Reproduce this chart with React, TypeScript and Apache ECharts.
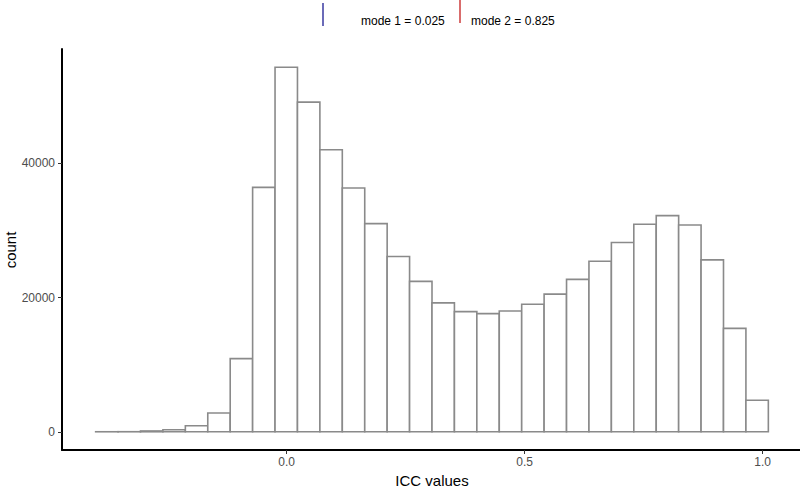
import React, { useEffect, useRef } from "react";
import * as echarts from "echarts";

// Histogram bins (30 bins, ggplot default)
const BIN_START = -0.401;
const BIN_WIDTH = 0.0471;
const COUNTS = [
  2, 10, 120, 300, 900, 2800, 10900, 36400, 54300, 49100,
  42000, 36300, 31000, 26100, 22400, 19200, 17900, 17600, 18000, 19000,
  20500, 22700, 25400, 28200, 30900, 32200, 30800, 25600, 15400, 4700,
];

const X_TICKS = [0, 0.5, 1.0];
const Y_TICKS = [0, 20000, 40000];
const X_RANGE = [-0.4717, 1.0827];
const Y_RANGE = [-2715, 57015];

const MODE_LABELS = ["mode 1 = 0.025", "mode 2 = 0.825"];
const MODE_COLORS = ["#3a3aa0", "#cc3b3b"];

const FONT = "'Liberation Sans', Arial, Helvetica, sans-serif";

export default function App() {
  const ref = useRef<HTMLDivElement>(null);

  useEffect(() => {
    if (!ref.current) return;
    const chart = echarts.init(ref.current, undefined, { renderer: "svg" });
    const data = COUNTS.map((c, i) => [
      BIN_START + i * BIN_WIDTH,
      BIN_START + (i + 1) * BIN_WIDTH,
      c,
    ]);

    const axisCommon = {
      type: "value" as const,
      splitLine: { show: false },
      axisLine: { show: true, onZero: false, lineStyle: { color: "#000", width: 2 } },
    };

    chart.setOption({
      animation: false,
      backgroundColor: "#fff",
      textStyle: { fontFamily: FONT },
      grid: {
        left: 62,
        top: 49,
        width: 740,
        height: 401,
        containLabel: false,
        outerBoundsMode: "none",
      },
      xAxis: {
        ...axisCommon,
        min: X_RANGE[0],
        max: X_RANGE[1],
        name: "ICC values",
        nameLocation: "middle",
        nameGap: 23,
        nameTextStyle: { color: "#000", fontSize: 15, fontFamily: FONT, verticalAlign: "top" },
        axisTick: { show: true, length: 4, customValues: X_TICKS, lineStyle: { color: "#333", width: 1 } },
        axisLabel: {
          customValues: X_TICKS,
          formatter: (v: number) => v.toFixed(1),
          color: "#4d4d4d",
          fontSize: 12,
          margin: 6,
          fontFamily: FONT,
        },
      },
      yAxis: {
        ...axisCommon,
        min: Y_RANGE[0],
        max: Y_RANGE[1],
        axisTick: { show: true, length: 4, customValues: Y_TICKS, lineStyle: { color: "#333", width: 1 } },
        axisLabel: {
          customValues: Y_TICKS,
          formatter: (v: number) => String(Math.round(v)),
          color: "#4d4d4d",
          fontSize: 12,
          margin: 7,
          fontFamily: FONT,
        },
      },
      series: [
        {
          type: "custom",
          data,
          encode: { x: [0, 1], y: 2 },
          renderItem: (params: any, api: any) => {
            const x0 = api.value(0);
            const x1 = api.value(1);
            const y = api.value(2);
            const p0 = api.coord([x0, 0]);
            const p1 = api.coord([x1, y]);
            return {
              type: "polygon",
              shape: {
                points: [
                  [p0[0], p0[1]],
                  [p0[0], p1[1]],
                  [p1[0], p1[1]],
                  [p1[0], p0[1]],
                ],
              },
              style: { fill: "#fff", stroke: "#8a8a8a", lineWidth: 1.6, lineJoin: "miter" },
            };
          },
        },
      ],
      graphic: [
        {
          type: "text",
          x: 10,
          y: 250,
          rotation: Math.PI / 2,
          style: {
            text: "count",
            fontSize: 15,
            fill: "#000",
            align: "center",
            verticalAlign: "middle",
            fontFamily: FONT,
          },
        },
        { type: "line", shape: { x1: 323, y1: 3, x2: 323, y2: 26 }, style: { stroke: MODE_COLORS[0], lineWidth: 1.5 } },
        {
          type: "text",
          x: 361,
          y: 20.5,
          style: { text: MODE_LABELS[0], fontSize: 12, fill: "#000", verticalAlign: "middle", fontFamily: FONT },
        },
        { type: "line", shape: { x1: 460, y1: 0, x2: 460, y2: 23 }, style: { stroke: MODE_COLORS[1], lineWidth: 1.5 } },
        {
          type: "text",
          x: 471,
          y: 20.5,
          style: { text: MODE_LABELS[1], fontSize: 12, fill: "#000", verticalAlign: "middle", fontFamily: FONT },
        },
      ],
    });

    return () => chart.dispose();
  }, []);

  return (
    <div
      ref={ref}
      style={{ position: "fixed", left: 0, top: 0, width: 800, height: 491, background: "#fff" }}
    />
  );
}
